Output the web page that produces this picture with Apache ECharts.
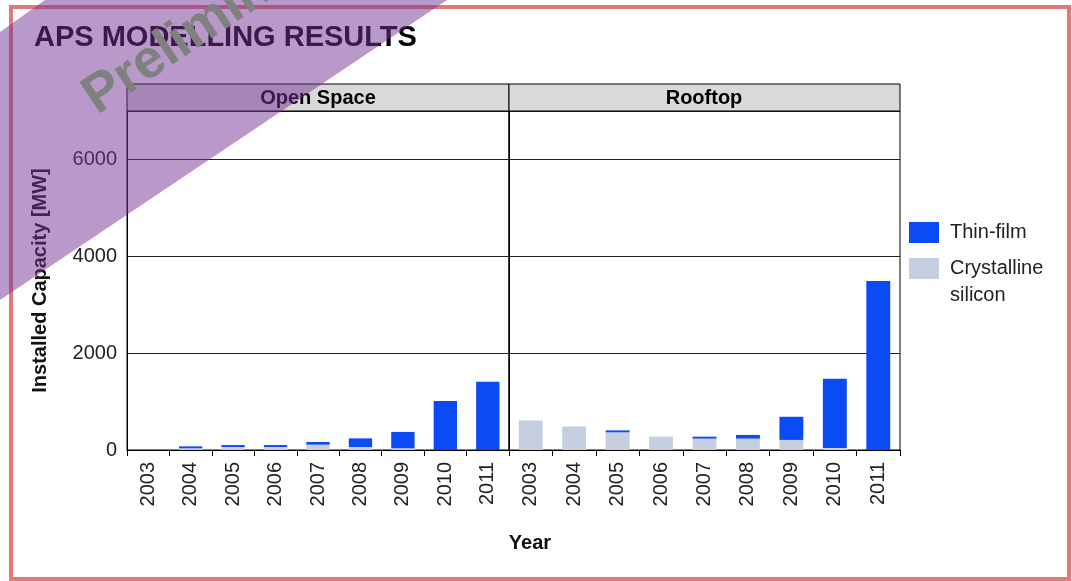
<!DOCTYPE html>
<html>
<head>
<meta charset="utf-8">
<script src="https://cdn.jsdelivr.net/npm/echarts@6/dist/echarts.min.js"></script>
<style>
html,body{margin:0;padding:0;background:#fff;}
#c{width:1072px;height:581px;}
</style>
</head>
<body>
<div id="c"></div>
<script>
var years = ['2003','2004','2005','2006','2007','2008','2009','2010','2011'];
var openThin = [0, 40, 40, 40, 55, 178, 338, 1010, 1410];
var openCryst = [0, 35, 62, 62, 110, 62, 35, 0, 0];
var roofThin = [0, 0, 40, 0, 40, 76, 478, 1430, 3490];
var roofCryst = [610, 485, 365, 277, 235, 235, 208, 40, 0];
var yTicks = [0, 2000, 4000, 6000];
var panels = ['Open Space', 'Rooftop'];
var seriesNames = ['Thin-film', 'Crystalline silicon'];

var FONT = "'Liberation Sans', Arial, sans-serif";
var BLUE = '#0b4bf5';
var GREY = '#c5cfe0';

var chart = echarts.init(document.getElementById('c'), null, {renderer: 'canvas'});

function xAxisFor(i) {
  return {
    type: 'category', gridIndex: i, data: years,
    axisLine: {show: true, lineStyle: {color: '#000', width: 1}},
    axisTick: {show: true, length: 6, lineStyle: {color: '#000'}},
    axisLabel: {interval: 0, rotate: 90, margin: 12, fontSize: 20, color: '#222', fontFamily: FONT},
    splitLine: {show: false}
  };
}
function yAxisFor(i) {
  return {
    type: 'value', gridIndex: i, min: 0, max: 7000, interval: 2000,
    name: i === 0 ? 'Installed Capacity [MW]' : '',
    nameLocation: 'middle', nameGap: 77,
    nameTextStyle: {fontSize: 20, fontWeight: 'bold', color: '#111', fontFamily: FONT},
    axisLine: {show: true, lineStyle: {color: '#000'}},
    axisTick: {show: false},
    axisLabel: {show: i === 0, showMaxLabel: false, margin: 10, fontSize: 20, color: '#222', fontFamily: FONT,
      formatter: function (v) { return yTicks.indexOf(v) >= 0 ? String(v) : ''; }},
    splitLine: {show: true, lineStyle: {color: '#222', width: 1}}
  };
}

var option = {
  backgroundColor: '#fff',
  animation: false,
  title: {
    text: 'APS MODELLING RESULTS', left: 29, top: 18,
    textStyle: {fontSize: 29, fontWeight: 'bold', color: '#000', fontFamily: FONT}
  },
  grid: [
    {left: 127, right: 563, top: 111, bottom: 131, show: true, borderColor: '#000', borderWidth: 1, backgroundColor: '#fff'},
    {left: 509, right: 172, top: 111, bottom: 131, show: true, borderColor: '#000', borderWidth: 1, backgroundColor: '#fff'}
  ],
  xAxis: [xAxisFor(0), xAxisFor(1)],
  yAxis: [yAxisFor(0), yAxisFor(1)],
  legend: [
    {data: [seriesNames[0]], orient: 'vertical', left: 909, top: 222, padding: 0,
      icon: 'rect', itemWidth: 30, itemHeight: 21,
      textStyle: {fontSize: 20, color: '#222', fontFamily: FONT, padding: [0, 0, 0, 6]}},
    {data: [seriesNames[1]], orient: 'vertical', left: 909, top: 228, padding: 0,
      icon: 'rect', itemWidth: 30, itemHeight: 21,
      formatter: function () { return '\nCrystalline\nsilicon'; },
      textStyle: {fontSize: 20, lineHeight: 27, color: '#222', fontFamily: FONT, padding: [0, 0, 0, 6]}}
  ],
  series: [
    {name: seriesNames[1], type: 'bar', stack: 'o', xAxisIndex: 0, yAxisIndex: 0, data: openCryst, barWidth: '55%', itemStyle: {color: GREY}},
    {name: seriesNames[0], type: 'bar', stack: 'o', xAxisIndex: 0, yAxisIndex: 0, data: openThin, barWidth: '55%', itemStyle: {color: BLUE}},
    {name: seriesNames[1], type: 'bar', stack: 'r', xAxisIndex: 1, yAxisIndex: 1, data: roofCryst, barWidth: '55%', itemStyle: {color: GREY}},
    {name: seriesNames[0], type: 'bar', stack: 'r', xAxisIndex: 1, yAxisIndex: 1, data: roofThin, barWidth: '55%', itemStyle: {color: BLUE}}
  ],
  graphic: [
    {type: 'rect', shape: {x: 127, y: 84, width: 382, height: 27}, style: {fill: '#d9d9d9', stroke: '#000', lineWidth: 1}, z: 10},
    {type: 'rect', shape: {x: 509, y: 84, width: 391, height: 27}, style: {fill: '#d9d9d9', stroke: '#000', lineWidth: 1}, z: 10},
    {type: 'text', x: 318, y: 98, style: {text: panels[0], font: 'bold 20px ' + FONT, fill: '#000', textAlign: 'center', textVerticalAlign: 'middle'}, z: 11},
    {type: 'text', x: 704, y: 98, style: {text: panels[1], font: 'bold 20px ' + FONT, fill: '#000', textAlign: 'center', textVerticalAlign: 'middle'}, z: 11},
    {type: 'text', x: 530, y: 543, style: {text: 'Year', font: 'bold 20px ' + FONT, fill: '#111', textAlign: 'center', textVerticalAlign: 'middle'}, z: 11},
    {type: 'rect', shape: {x: 11, y: 7, width: 1058, height: 572}, style: {fill: null, stroke: '#e07a78', lineWidth: 4}, z: 50},
    {type: 'polygon', shape: {points: [[45, 0], [447, 0], [0, 300], [0, 32]]}, style: {fill: 'rgba(116,52,148,0.5)'}, z: 100},
    {type: 'text', x: 104, y: 125, rotation: 0.59, style: {text: 'Preliminary', font: 'bold 54px ' + FONT, fill: '#808080', textAlign: 'left', textVerticalAlign: 'bottom'}, z: 101}
  ]
};
chart.setOption(option);
</script>
</body>
</html>
